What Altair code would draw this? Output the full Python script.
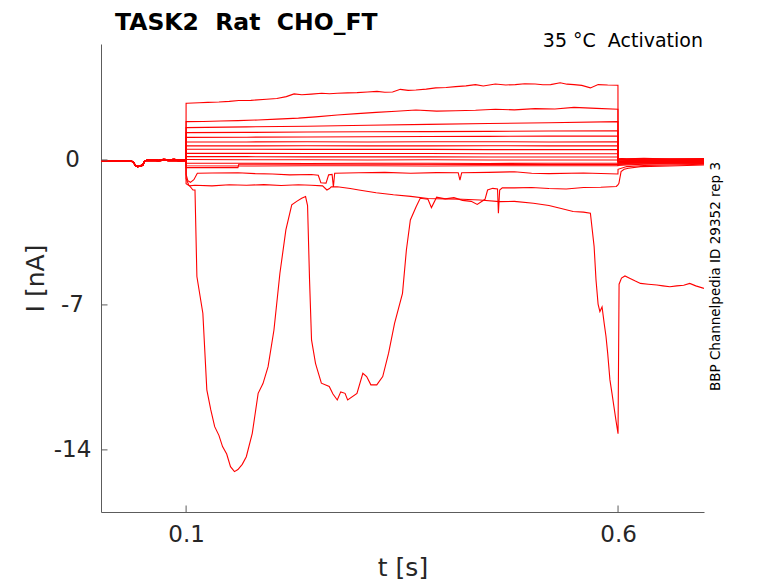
import altair as alt
import pandas as pd

# ---------------- data ----------------
PRE_T = [0.0, 0.006, 0.012, 0.018, 0.024, 0.030, 0.036, 0.039, 0.041, 0.044, 0.047,
         0.050, 0.052, 0.056, 0.062, 0.068, 0.074, 0.080, 0.086, 0.092, 0.0999]
PRE_I_A = [-0.06, -0.04, -0.07, -0.05, -0.03, -0.06, -0.05, -0.08, -0.24, -0.31, -0.30,
           -0.26, -0.05, 0.01, 0.02, -0.01, 0.03, 0.01, 0.03, 0.0, 0.02]
PRE_I_B = [-0.04, -0.06, -0.03, -0.05, -0.07, -0.04, -0.06, -0.10, -0.27, -0.33, -0.28,
           -0.22, -0.03, -0.04, -0.02, -0.05, -0.01, -0.04, -0.02, -0.05, -0.03]

T1_T = [0.1, 0.101, 0.115, 0.125, 0.138, 0.150, 0.161, 0.175, 0.193, 0.205, 0.216, 0.225,
        0.234, 0.245, 0.257, 0.266, 0.275, 0.287, 0.298, 0.310, 0.321, 0.330, 0.339, 0.348,
        0.357, 0.366, 0.378, 0.389, 0.401, 0.412, 0.424, 0.435, 0.444, 0.458, 0.470, 0.481,
        0.492, 0.504, 0.513, 0.522, 0.533, 0.541, 0.549, 0.558, 0.568, 0.577, 0.588, 0.5999]
T1_I = [2.74, 2.74, 2.76, 2.78, 2.80, 2.83, 2.87, 2.88, 2.93, 2.97, 3.06, 3.19,
        3.15, 3.18, 3.22, 3.20, 3.22, 3.24, 3.25, 3.28, 3.31, 3.27, 3.28, 3.41,
        3.36, 3.38, 3.42, 3.48, 3.50, 3.54, 3.58, 3.64, 3.57, 3.67, 3.62, 3.64,
        3.68, 3.67, 3.63, 3.64, 3.73, 3.66, 3.64, 3.60, 3.48, 3.64, 3.62, 3.61]

T2_T = [0.1, 0.12, 0.14, 0.16, 0.183, 0.205, 0.23, 0.25, 0.275, 0.298, 0.32, 0.343,
        0.366, 0.39, 0.412, 0.435, 0.458, 0.48, 0.504, 0.527, 0.549, 0.575, 0.5999]
T2_I = [1.85, 1.86, 1.88, 1.90, 1.93, 1.97, 2.02, 2.08, 2.17, 2.24, 2.30, 2.35,
        2.41, 2.36, 2.38, 2.40, 2.45, 2.42, 2.48, 2.46, 2.54, 2.49, 2.45]

LEVEL_T = [0.1, 0.17, 0.24, 0.31, 0.38, 0.45, 0.52, 0.5999]
T3_I = [1.56, 1.60, 1.63, 1.68, 1.72, 1.76, 1.80, 1.85]
T4_I = [1.32, 1.33, 1.35, 1.36, 1.37, 1.38, 1.40, 1.41]
T5_I = [1.09, 1.10, 1.11, 1.12, 1.13, 1.14, 1.15, 1.16]
T6_I = [0.87, 0.87, 0.88, 0.87, 0.88, 0.88, 0.87, 0.88]
T7_I = [0.68, 0.68, 0.69, 0.68, 0.68, 0.69, 0.68, 0.68]
T8_I = [0.52, 0.52, 0.51, 0.51, 0.51, 0.50, 0.50, 0.50]
T9_I = [0.32, 0.32, 0.31, 0.31, 0.31, 0.30, 0.30, 0.30]
T10_I = [0.16, 0.16, 0.15, 0.15, 0.15, 0.14, 0.14, 0.14]
T11_I = [0.02, 0.01, 0.01, 0.0, 0.01, 0.0, 0.0, 0.0]
T12_I = [-0.16, -0.16, -0.17, -0.16, -0.16, -0.17, -0.16, -0.16]
T13_I = [-0.28, -0.29, -0.28, -0.28, -0.29, -0.28, -0.28, -0.28]

T14_T = [0.1, 0.16, 0.161, 0.3, 0.45, 0.5999]
T14_I = [-0.37, -0.37, -0.21, -0.21, -0.22, -0.22]

T15_T = [0.1, 0.102, 0.105, 0.109, 0.113, 0.13, 0.16, 0.18, 0.2, 0.22, 0.245, 0.253,
         0.256, 0.262, 0.265, 0.269, 0.2705, 0.272, 0.3, 0.33, 0.36, 0.39, 0.415, 0.417,
         0.419, 0.45, 0.48, 0.50, 0.52, 0.56, 0.5999]
T15_I = [-0.7, -1.0, -1.08, -0.95, -0.64, -0.63, -0.62, -0.66, -0.68, -0.72, -0.7, -0.74,
         -1.1, -1.12, -0.72, -0.7, -1.3, -0.64, -0.62, -0.6, -0.64, -0.61, -0.62, -0.97,
         -0.62, -0.6, -0.57, -0.64, -0.66, -0.63, -0.68]

T16_T = [0.1, 0.104, 0.11, 0.13, 0.15, 0.17, 0.19, 0.21, 0.23, 0.245, 0.258, 0.263, 0.266,
         0.268, 0.275, 0.29, 0.3, 0.32, 0.34, 0.36, 0.38, 0.40, 0.42, 0.44, 0.463, 0.48,
         0.502, 0.52, 0.533, 0.548, 0.56, 0.568, 0.5723, 0.5745, 0.5769, 0.579, 0.5815,
         0.584, 0.586, 0.588, 0.5906, 0.593, 0.5952, 0.5975, 0.5999]
T16_I = [-1.15, -1.25, -1.22, -1.25, -1.2, -1.22, -1.19, -1.23, -1.2, -1.22, -1.25, -1.45,
         -1.38, -1.3, -1.29, -1.38, -1.45, -1.58, -1.68, -1.76, -1.86, -1.88, -1.9, -1.93,
         -2.01, -2.0, -2.09, -2.2, -2.33, -2.49, -2.52, -2.57, -4.18, -5.8, -6.96, -7.32,
         -7.1, -7.9, -8.5, -9.33, -10.62, -11.27, -11.9, -12.55, -13.2]
T16_TAIL_T = [0.6, 0.6012, 0.604, 0.608, 0.614, 0.62, 0.626, 0.635, 0.645, 0.652, 0.66,
              0.668, 0.676, 0.683, 0.69, 0.6995]
T16_TAIL_I = [-13.2, -6.0, -5.7, -5.6, -5.72, -5.85, -5.96, -6.0, -6.04, -6.08, -6.12,
              -6.08, -6.05, -5.96, -6.08, -6.2]

T17_T = [0.1, 0.103, 0.108, 0.1103, 0.1125, 0.1194, 0.124, 0.1286, 0.1331, 0.138, 0.1422,
         0.147, 0.1514, 0.156, 0.16, 0.165, 0.1697, 0.1766, 0.1834, 0.189, 0.1949, 0.2017,
         0.2086, 0.2155, 0.2223, 0.228, 0.2338, 0.2383, 0.2406, 0.2429, 0.2452, 0.2498,
         0.252, 0.2566, 0.2657, 0.27, 0.275, 0.279, 0.284, 0.287, 0.2978, 0.3046, 0.309,
         0.3139, 0.3207, 0.3276, 0.3344, 0.3413, 0.3505, 0.355, 0.3596, 0.3664, 0.371,
         0.38, 0.384, 0.39, 0.40, 0.41, 0.42, 0.43, 0.437, 0.446, 0.449, 0.455, 0.4605,
         0.4615, 0.463, 0.466, 0.48, 0.50, 0.52, 0.54, 0.56, 0.58, 0.598, 0.5999]
T17_I = [-0.9, -1.2, -1.45, -1.45, -5.63, -7.40, -11.1, -12.07, -12.88, -13.3, -13.84,
         -14.2, -14.81, -15.05, -14.95, -14.7, -14.33, -13.2, -11.27, -10.8, -9.98, -8.21,
         -5.47, -3.38, -2.17, -2.0, -1.85, -1.77, -2.2, -5.79, -8.69, -9.82,
         -10.14, -10.78, -10.94, -11.3, -11.59, -11.2, -11.27, -11.59, -11.27, -10.3, -10.46,
         -10.86, -10.86, -10.46, -9.33, -7.89, -6.44, -4.35, -2.9, -2.25, -1.85,
         -1.9, -2.3, -1.8, -1.88, -1.82, -1.95, -2.0, -2.15, -1.9, -1.45, -1.37, -1.4,
         -2.57, -1.45, -1.35, -1.35, -1.33, -1.38, -1.4, -1.33, -1.32, -1.28, -1.2]
T17_TAIL_T = [0.6, 0.601, 0.6035, 0.607, 0.612, 0.626, 0.66, 0.6995]
T17_TAIL_I = [-1.2, -1.13, -0.56, -0.45, -0.4, -0.32, -0.29, -0.24]

TAIL_T = [0.6, 0.61, 0.63, 0.66, 0.6995]
TAIL_1 = [0.08, 0.06, 0.08, 0.05, 0.07]
TAIL_2 = [0.06, 0.05, 0.04, 0.06, 0.05]
TAIL_3 = [0.04, 0.03, 0.05, 0.03, 0.04]
TAIL_4 = [0.02, 0.02, 0.0, 0.02, 0.02]
TAIL_5 = [0.0, -0.02, 0.0, -0.01, 0.0]
TAIL_6 = [-0.03, -0.04, -0.02, -0.03, -0.02]
TAIL_7 = [-0.05, -0.06, -0.05, -0.04, -0.05]
TAIL_8 = [-0.07, -0.08, -0.06, -0.07, -0.06]
TAIL_9 = [-0.10, -0.10, -0.09, -0.08, -0.08]
TAIL_10 = [-0.12, -0.12, -0.11, -0.10, -0.10]
TAIL_11 = [-0.15, -0.14, -0.13, -0.12, -0.12]
TAIL_12 = [-0.18, -0.17, -0.15, -0.14, -0.13]
TAIL_13 = [-0.22, -0.20, -0.18, -0.16, -0.15]
TAIL_14 = [-0.26, -0.24, -0.20, -0.19, -0.17]
TAIL_15 = [-0.45, -0.32, -0.27, -0.24, -0.21]

X_TICKS = [0.1, 0.6]
Y_TICKS = [-14, -7, 0]

TITLE = "TASK2\u00a0 Rat\u00a0 CHO_FT"
COND = "35 \u00b0C\u00a0 Activation"
SIDE = "BBP Channelpedia ID 29352 rep 3"

# ---------------- build long table ----------------
traces = [
    ("T1", PRE_I_A, T1_T, T1_I, TAIL_T, TAIL_1),
    ("T2", PRE_I_B, T2_T, T2_I, TAIL_T, TAIL_2),
    ("T3", PRE_I_A, LEVEL_T, T3_I, TAIL_T, TAIL_3),
    ("T4", PRE_I_B, LEVEL_T, T4_I, TAIL_T, TAIL_4),
    ("T5", PRE_I_A, LEVEL_T, T5_I, TAIL_T, TAIL_5),
    ("T6", PRE_I_B, LEVEL_T, T6_I, TAIL_T, TAIL_6),
    ("T7", PRE_I_A, LEVEL_T, T7_I, TAIL_T, TAIL_7),
    ("T8", PRE_I_B, LEVEL_T, T8_I, TAIL_T, TAIL_8),
    ("T9", PRE_I_A, LEVEL_T, T9_I, TAIL_T, TAIL_9),
    ("T10", PRE_I_B, LEVEL_T, T10_I, TAIL_T, TAIL_10),
    ("T11", PRE_I_A, LEVEL_T, T11_I, TAIL_T, TAIL_11),
    ("T12", PRE_I_B, LEVEL_T, T12_I, TAIL_T, TAIL_12),
    ("T13", PRE_I_A, LEVEL_T, T13_I, TAIL_T, TAIL_13),
    ("T14", PRE_I_B, T14_T, T14_I, TAIL_T, TAIL_14),
    ("T15", PRE_I_A, T15_T, T15_I, TAIL_T, TAIL_15),
    ("T16", PRE_I_B, T16_T, T16_I, T16_TAIL_T, T16_TAIL_I),
    ("T17", PRE_I_A, T17_T, T17_I, T17_TAIL_T, T17_TAIL_I),
]

rows = []
for name, pre_i, st, si, tt, ti in traces:
    assert len(st) == len(si), name
    assert len(tt) == len(ti), name
    seq = list(zip(PRE_T, pre_i)) + list(zip(st, si)) + list(zip(tt, ti))
    for k, (t, v) in enumerate(seq):
        rows.append({"trace": name, "idx": k, "t": t, "I": v})
df = pd.DataFrame(rows)

AX = "#5c5c5c"
TXT = "#262626"
FONT = "DejaVu Sans"
W, H = 603, 468

xscale = alt.Scale(domain=[0.0015, 0.6995], nice=False, zero=False)
yscale = alt.Scale(domain=[-17.0, 5.6], nice=False, zero=False)

x_axis = alt.Axis(values=X_TICKS, labelExpr="'' + datum.value", title="t [s]", grid=False,
                  tickSize=0, labelPadding=11.5, labelFontSize=23, labelFont=FONT,
                  labelColor=TXT, labelAlign="center", labelBaseline="top",
                  labelFlush=False, labelOverlap=False,
                  titleFontSize=25, titleFont=FONT, titleColor=TXT, titleFontWeight="normal",
                  titleX=W / 2, titleY=63, titleBaseline="alphabetic", titleAlign="center",
                  domainColor=AX, domainWidth=1)
y_axis = alt.Axis(values=Y_TICKS, labelExpr="'' + datum.value", title="I [nA]", grid=False,
                  tickSize=0, labelPadding=29, labelFontSize=23, labelFont=FONT,
                  labelColor=TXT, labelAlign="center", labelBaseline="middle",
                  labelFlush=False, labelOverlap=False,
                  titleFontSize=25, titleFont=FONT, titleColor=TXT, titleFontWeight="normal",
                  titleAngle=270, titleX=-57.3, titleY=H / 2, titleBaseline="alphabetic",
                  titleAlign="center", domainColor=AX, domainWidth=1)

lines = alt.Chart(df).mark_line(color="#ff0000", strokeWidth=1.1, clip=True).encode(
    x=alt.X("t:Q", scale=xscale, axis=x_axis),
    y=alt.Y("I:Q", scale=yscale, axis=y_axis),
    detail="trace:N",
    order="idx:Q",
)

yt = alt.Chart(pd.DataFrame({"I": Y_TICKS})).mark_rule(color=AX, strokeWidth=1).encode(
    y=alt.Y("I:Q", scale=yscale, axis=y_axis),
    x=alt.value(0), x2=alt.value(6.5),
)
xt = alt.Chart(pd.DataFrame({"t": X_TICKS})).mark_rule(color=AX, strokeWidth=1).encode(
    x=alt.X("t:Q", scale=xscale, axis=x_axis),
    y=alt.value(H), y2=alt.value(H - 6.5),
)

title_txt = alt.Chart(pd.DataFrame({"label": [TITLE]})).mark_text(
    align="left", baseline="alphabetic", font=FONT, fontSize=23.5, fontWeight="bold",
    color="#000000").encode(x=alt.value(14), y=alt.value(-14.0), text="label:N")
cond_txt = alt.Chart(pd.DataFrame({"label": [COND]})).mark_text(
    align="right", baseline="alphabetic", font=FONT, fontSize=19,
    color="#000000").encode(x=alt.value(602), y=alt.value(3.3), text="label:N")
side_txt = alt.Chart(pd.DataFrame({"label": [SIDE]})).mark_text(
    align="center", baseline="alphabetic", font=FONT, fontSize=13.5, angle=270,
    color="#000000").encode(x=alt.value(618.5), y=alt.value(232.5), text="label:N")

chart = alt.layer(lines, yt, xt, title_txt, cond_txt, side_txt).properties(
    width=W, height=H,
    padding={"left": 93, "top": 36, "right": 60, "bottom": 72},
    autosize=alt.AutoSizeParams(type="none"),
    background="white",
).configure_view(strokeWidth=0)

chart.save("out.html", embed_options={"renderer": "svg", "actions": False})
